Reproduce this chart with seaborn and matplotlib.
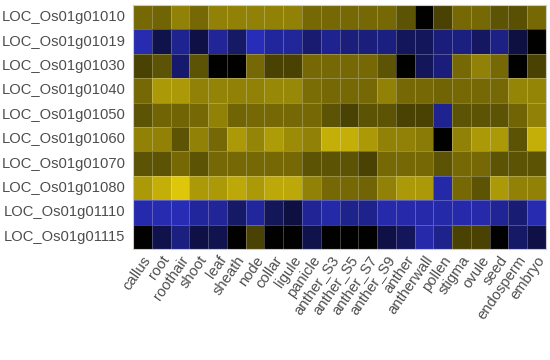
import numpy as np
import pandas as pd
import matplotlib
matplotlib.use("Agg")
import matplotlib.pyplot as plt
import seaborn as sns
from matplotlib.colors import LinearSegmentedColormap

genes = ["LOC_Os01g01010", "LOC_Os01g01019", "LOC_Os01g01030", "LOC_Os01g01040",
         "LOC_Os01g01050", "LOC_Os01g01060", "LOC_Os01g01070", "LOC_Os01g01080",
         "LOC_Os01g01110", "LOC_Os01g01115"]
tissues = ["callus", "root", "roothair", "shoot", "leaf", "sheath", "node", "collar",
           "ligule", "panicle", "anther_S3", "anther_S5", "anther_S7", "anther_S9",
           "anther", "antherwall", "pollen", "stigma", "ovule", "seed", "endosperm", "embryo"]

r010 = [0.53, 0.50, 0.65, 0.53, 0.65, 0.65, 0.65, 0.65, 0.65, 0.53, 0.53, 0.53, 0.53, 0.53, 0.42, 0.00, 0.33, 0.53, 0.53, 0.42, 0.40, 0.53]
r019 = [-0.95, -0.40, -0.78, -0.38, -0.82, -0.55, -1.00, -0.85, -0.83, -0.60, -0.78, -0.66, -0.66, -0.68, -0.50, -0.50, -0.65, -0.68, -0.52, -0.72, -0.35, 0.00]
r030 = [0.33, 0.42, -0.58, 0.42, 0.00, 0.00, 0.53, 0.33, 0.33, 0.53, 0.53, 0.53, 0.53, 0.42, 0.00, -0.50, -0.65, 0.53, 0.65, 0.53, 0.00, 0.33]
r040 = [0.53, 0.77, 0.77, 0.65, 0.66, 0.65, 0.65, 0.68, 0.68, 0.55, 0.53, 0.53, 0.53, 0.65, 0.53, 0.53, 0.50, 0.53, 0.53, 0.53, 0.67, 0.67]
r050 = [0.42, 0.50, 0.50, 0.53, 0.65, 0.50, 0.53, 0.53, 0.53, 0.53, 0.42, 0.33, 0.42, 0.42, 0.33, 0.33, -0.78, 0.42, 0.42, 0.42, 0.50, 0.65]
r060 = [0.65, 0.65, 0.42, 0.65, 0.53, 0.77, 0.67, 0.78, 0.70, 0.65, 0.88, 0.88, 0.77, 0.65, 0.65, 0.62, 0.00, 0.65, 0.77, 0.77, 0.42, 0.88]
r070 = [0.42, 0.42, 0.53, 0.42, 0.53, 0.53, 0.53, 0.53, 0.53, 0.42, 0.42, 0.42, 0.33, 0.53, 0.53, 0.53, 0.42, 0.53, 0.53, 0.42, 0.42, 0.42]
r080 = [0.77, 0.88, 1.00, 0.77, 0.77, 0.85, 0.77, 0.85, 0.85, 0.65, 0.53, 0.53, 0.50, 0.65, 0.77, 0.77, -0.90, 0.53, 0.42, 0.77, 0.65, 0.65]
r110 = [-0.93, -0.95, -0.97, -0.85, -0.82, -0.55, -0.85, -0.48, -0.35, -0.80, -0.90, -0.75, -0.75, -0.92, -0.92, -0.92, -0.90, -0.92, -0.92, -0.80, -0.62, -0.95]
r115 = [0.00, -0.40, -0.68, -0.38, -0.42, 0.00, 0.33, 0.00, 0.00, -0.40, 0.00, 0.00, 0.00, -0.38, -0.50, -0.92, -0.75, 0.33, 0.33, 0.00, -0.55, -0.38]

df = pd.DataFrame([r010, r019, r030, r040, r050, r060, r070, r080, r110, r115],
                  index=genes, columns=tissues)

cmap = LinearSegmentedColormap.from_list(
    "byk", [(40/255, 45/255, 185/255), (0, 0, 0), (222/255, 198/255, 10/255)])

sns.set_style("white")
plt.rcParams['font.family'] = ['Liberation Sans', 'DejaVu Sans']

fig = plt.figure(figsize=(5.5, 3.6), dpi=100)
ax = fig.add_axes([133/550, 1 - 249/360, 413/550, 244/360])
sns.heatmap(df, ax=ax, cmap=cmap, vmin=-1, vmax=1, cbar=False,
            linewidths=0.6, linecolor=(1, 1, 1, 0.25))
for s in ax.spines.values():
    s.set_visible(True)
    s.set_color("#cccccc")
    s.set_linewidth(0.8)
ax.set_xlabel("")
ax.set_ylabel("")
ax.tick_params(axis="y", length=0, pad=5.5)
ax.tick_params(axis="x", length=0, pad=3)
ax.set_yticklabels(genes, rotation=0, fontsize=10.6, color="#4d4d4d")
ax.set_xticklabels(tissues, rotation=55, ha="right", va="top",
                   rotation_mode="anchor", fontsize=10.6, color="#4d4d4d")
fig.savefig("out.png", dpi=100)
